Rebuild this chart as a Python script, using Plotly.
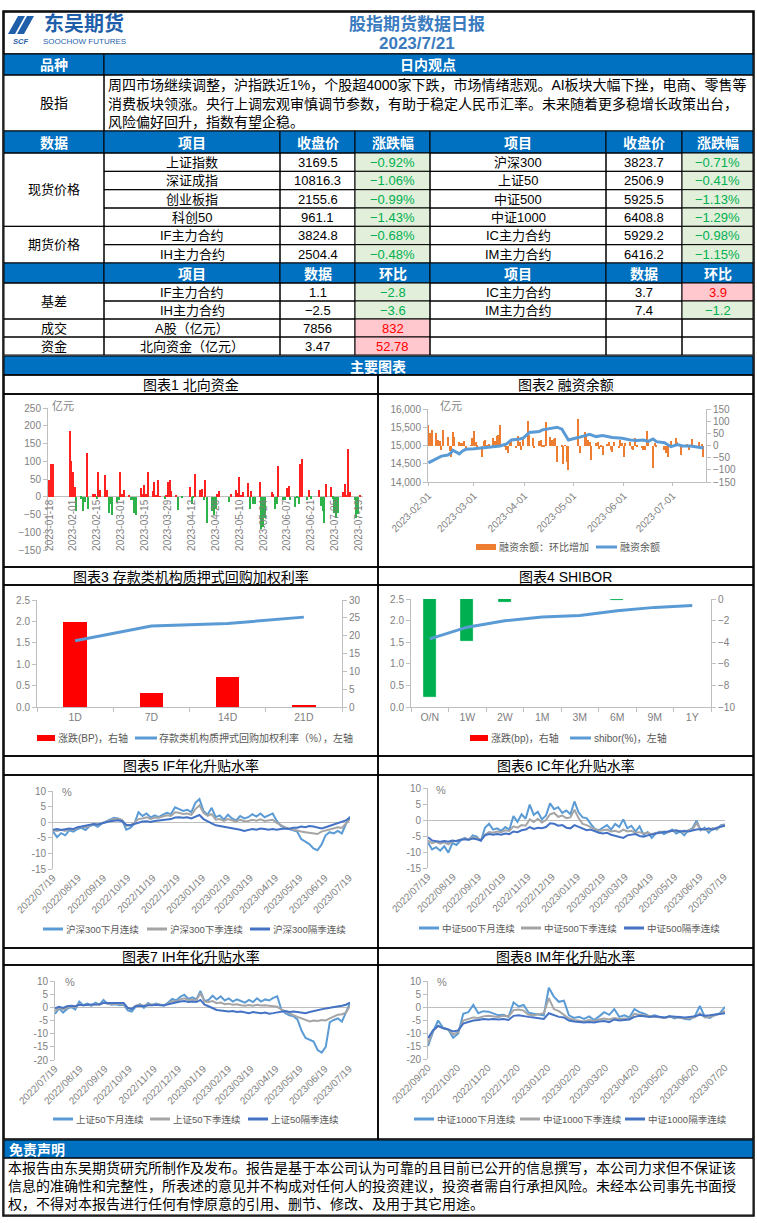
import plotly.graph_objects as go
import pandas as pd

W, H = 757, 1223
def X(px): return px / W
def Y(py): return 1 - py / H

LAT = "Liberation Sans, Noto Sans CJK SC, sans-serif"
CJK = "Noto Sans CJK SC, Liberation Sans, sans-serif"
GRAY = "#595959"
TICKC = "#7F7F7F"
AXC = "#BFBFBF"
HDR = "#0070C0"
GREEN_BG, GREEN_TX = "#E2EFDA", "#00B050"
RED_BG, RED_TX = "#FFC7CE", "#FF0000"
C_LB, C_GR, C_DB = "#5B9BD5", "#A5A5A5", "#4472C4"

# ---------------- header / table data ----------------
title_main = "股指期货数据日报"
title_date = "2023/7/21"
view_label = "股指"
view_lines = [
    "周四市场继续调整，沪指跌近1%，个股超4000家下跌，市场情绪悲观。AI板块大幅下挫，电商、零售等",
    "消费板块领涨。央行上调宏观审慎调节参数，有助于稳定人民币汇率。未来随着更多稳增长政策出台，",
    "风险偏好回升，指数有望企稳。",
]
hdr1 = ["数据", "项目", "收盘价", "涨跌幅", "项目", "收盘价", "涨跌幅"]
hdr2 = ["", "项目", "数据", "环比", "项目", "数据", "环比"]
price_l_names = ["上证指数", "深证成指", "创业板指", "科创50", "IF主力合约", "IH主力合约"]
price_l_close = [3169.5, 10816.3, 2155.6, 961.1, 3824.8, 2504.4]
price_l_chg = [-0.92, -1.06, -0.99, -1.43, -0.68, -0.48]
price_r_names = ["沪深300", "上证50", "中证500", "中证1000", "IC主力合约", "IM主力合约"]
price_r_close = [3823.7, 2506.9, 5925.5, 6408.8, 5929.2, 6416.2]
price_r_chg = [-0.71, -0.41, -1.13, -1.29, -0.98, -1.15]
group_labels = ["现货价格", "期货价格", "基差", "成交", "资金"]
basis_l_names = ["IF主力合约", "IH主力合约", "A股（亿元）", "北向资金（亿元）"]
basis_l_vals = [1.1, -2.5, 7856, 3.47]
basis_l_chg = [-2.8, -3.6, 832, 52.78]
basis_r_names = ["IC主力合约", "IM主力合约"]
basis_r_vals = [3.7, 7.4]
basis_r_chg = [3.9, -1.2]
section_title = "主要图表"
disc_title = "免责声明"
disc_lines = [
    "本报告由东吴期货研究所制作及发布。报告是基于本公司认为可靠的且目前已公开的信息撰写，本公司力求但不保证该",
    "信息的准确性和完整性，所表述的意见并不构成对任何人的投资建议，投资者需自行承担风险。未经本公司事先书面授",
    "权，不得对本报告进行任何有悖原意的引用、删节、修改、及用于其它用途。",
]
chart_titles = ["图表1 北向资金", "图表2 融资余额", "图表3 存款类机构质押式回购加权利率", "图表4 SHIBOR",
                "图表5 IF年化升贴水率", "图表6 IC年化升贴水率", "图表7 IH年化升贴水率", "图表8 IM年化升贴水率"]

# ---------------- chart 1: northbound ----------------
nb_holidays = ["2023-01-23", "2023-01-24", "2023-01-25", "2023-01-26", "2023-01-27", "2023-04-05",
               "2023-04-07", "2023-04-10", "2023-05-01", "2023-05-02", "2023-05-03", "2023-05-26",
               "2023-06-22", "2023-06-23"]
nb_values = [47, 92, 92, 186, 102,
             69, 28, -40, -5, -40, -15, 122, -35, 7, 7, -5, 69, 20, 60, 18, -45, -20, -50, -15, -10,
             70, 7, 20, 3, -10, -10, -45, -52, 26, 7, 34, 7, 71, 15, 42, 5, 47, 2, -5, 3, 42, 48, 15,
             5, -38, -2, 27, -20, -3, 64, 20, 22, -8, 47, -75, -40, -50, -35, 7, 15,
             -15, 7, 20, 10, 56, 5, 14, 40, -35, 15, -20, -20, 42, -90, -85, -60, 13, 7, -35,
             -20, 87, -10, -8, 24, 29, -10, -30, -3, -20, 93, 105, -10, 18, -5, 20, -25, -40, -75, 35,
             27, -5, -45, -60, -45, 12, 35, 4, 135, 12, -10, -60, -49.31, 3.47]
nb_ticks = ["2023-01-18", "2023-02-01", "2023-02-15", "2023-03-01", "2023-03-15", "2023-03-29", "2023-04-12",
            "2023-04-26", "2023-05-10", "2023-05-24", "2023-06-07", "2023-06-21", "2023-07-05", "2023-07-19"]

# ---------------- chart 2: margin balance ----------------
mb_holidays = ["2023-04-05", "2023-05-01", "2023-05-02", "2023-05-03", "2023-06-22", "2023-06-23"]
mb_chg = [84, 50, 64, 50, 22, 20, -19, 64, 36, -22, -49, 57, 36, 16, 12, 9, 19, -19, 2, 30,
          60, 16, -5, -49, 18, 22, -5, 8, 29, 18, 39, 43, 84, -5, -19, -32, 12, 25, -10, 40, 15, -20, 30,
          102, 43, 29, -12, 19, 22, -8, -8, 98, 36, 22, 25, 29, -68, -5, -77, 2, -68, -100,
          108, -32, 57, 43, 22, 16, -58, 12, 16, -16, -5, -40, 6, 16, -19, -26, 16, -12, 22, 10,
          -49, 9, 16, -16, -19, 29, -5, -12, -19, -19, 61, 22, -91, 10, -8, -19, -30, -49, 5, 19,
          29, 16, 6, -40, -2, 6, -19, -8, 25, 2, 16, -10, 8, -49]
mb_line_dates = ["2023-02-01", "2023-02-06", "2023-02-09", "2023-02-13", "2023-02-15", "2023-02-16",
                 "2023-02-20", "2023-02-22", "2023-02-24", "2023-03-01", "2023-03-06", "2023-03-09",
                 "2023-03-14", "2023-03-17", "2023-03-21", "2023-03-23", "2023-03-24", "2023-03-29",
                 "2023-03-31", "2023-04-04", "2023-04-06", "2023-04-10", "2023-04-12", "2023-04-17",
                 "2023-04-21", "2023-04-24", "2023-04-26", "2023-04-28", "2023-05-04", "2023-05-08",
                 "2023-05-11", "2023-05-15", "2023-05-19", "2023-05-25", "2023-05-31", "2023-06-05",
                 "2023-06-09", "2023-06-13", "2023-06-16", "2023-06-19", "2023-06-21", "2023-06-26",
                 "2023-06-30", "2023-07-04", "2023-07-07", "2023-07-12", "2023-07-17", "2023-07-20"]
mb_line_vals = [14525, 14645, 14710, 14740, 14800, 14870, 14770, 14850, 14895, 14912, 14930, 14950,
                14965, 14986, 15041, 15100, 15152, 15180, 15198, 15355, 15364, 15382, 15429, 15465,
                15502, 15447, 15290, 15152, 15217, 15272, 15309, 15244, 15272, 15217, 15198, 15152,
                15134, 15152, 15115, 15180, 15106, 15078, 14968, 15023, 14986, 14986, 14950, 14931]
mb_ticks = ["2023-02-01", "2023-03-01", "2023-04-01", "2023-05-01", "2023-06-01", "2023-07-01"]

# ---------------- chart 3: repo ----------------
repo_cats = ["1D", "7D", "14D", "21D"]
repo_bp = [23.9, 3.9, 8.4, 0.4]
repo_rate = [1.55, 1.89, 1.95, 2.10]

# ---------------- chart 4: shibor ----------------
shibor_cats = ["O/N", "1W", "2W", "1M", "3M", "6M", "9M", "1Y"]
shibor_bp = [-9.1, -3.9, -0.3, 0, 0, -0.1, 0, 0]
shibor_rate = [1.576, 1.848, 1.995, 2.081, 2.12, 2.228, 2.306, 2.35]

# ---------------- charts 5-8: basis rates ----------------
yr_ticks = ["2022/07/19", "2022/08/19", "2022/09/19", "2022/10/19", "2022/11/19", "2022/12/19", "2023/01/19",
            "2023/02/19", "2023/03/19", "2023/04/19", "2023/05/19", "2023/06/19", "2023/07/19"]
im_ticks = ["2022/09/20", "2022/10/20", "2022/11/20", "2022/12/20", "2023/01/20", "2023/02/20", "2023/03/20",
            "2023/04/20", "2023/05/20", "2023/06/20", "2023/07/20"]
y15_ticks = ["10", "5", "0", "-5", "-10", "-15"]
y20_ticks = ["10", "5", "0", "-5", "-10", "-15", "-20"]

IF_m = [-3.0, -4.8, -3.5, -4.2, -2.6, -3.0, -2.2, -1.8, -2.5, -1.2,
        -0.8, -1.5, -0.4, 0.3, 0.8, 1.4, 1.2, 0.6, -2.4, -1.8,
        -0.5, 3.2, 2.0, 2.8, 1.5, 2.2, 1.6, 2.4, 3.0, 2.6,
        4.8, 4.2, 3.6, 4.0, 3.2, 6.2, 7.4, 3.6, 2.4, 4.6,
        1.6, 2.2, 0.8, 2.4, 1.2, 0.6, 2.0, 1.2, 1.6, 2.6,
        1.8, 2.8, 1.6, 2.2, 2.8, 0.4, -1.2, -1.8, -2.2, -2.8,
        -3.0, -5.4, -6.2, -7.0, -8.4, -9.0, -7.2, -4.2, -3.2, -3.6,
        -2.8, -3.6, -0.6, 1.8]
IF_q = [-2.6, -2.8, -2.4, -2.8, -2.2, -2.4, -1.8, -1.5, -1.6, -1.0,
        -0.6, -0.8, -0.3, 0.2, 0.6, 1.0, 1.1, 0.7, -1.2, -1.0,
        -0.2, 1.0, 1.2, 1.6, 1.0, 1.5, 1.4, 1.8, 2.2, 2.0,
        3.2, 3.0, 2.6, 2.8, 2.4, 4.2, 5.4, 3.0, 2.0, 2.6,
        0.8, 1.0, 0.4, 1.0, 0.5, 0.2, 0.8, 0.3, 0.4, 0.8,
        0.5, 0.9, 0.4, 0.6, 0.8, -0.2, -1.0, -1.6, -2.0, -2.4,
        -2.6, -3.0, -3.2, -3.4, -3.6, -3.8, -3.0, -2.6, -2.2, -2.0,
        -1.6, -1.8, -0.4, 1.0]
IF_f = [-2.4, -2.2, -2.5, -2.3, -2.0, -2.2, -1.6, -1.4, -1.2, -0.8,
        -0.6, -0.7, -0.3, 0.0, 0.3, 0.5, 0.6, 0.3, -0.8, -1.0,
        -0.6, 0.0, 0.2, 0.3, 0.1, 0.4, 0.5, 0.6, 0.8, 1.0,
        1.5, 1.6, 1.4, 1.6, 1.2, 1.8, 2.3, 1.0, 0.2, -0.4,
        -1.0, -1.2, -1.4, -1.6, -1.8, -2.0, -2.4, -2.8, -2.4, -2.2,
        -2.4, -2.0, -2.2, -2.4, -2.2, -2.4, -2.2, -2.0, -2.2, -1.8,
        -1.8, -1.4, -1.6, -1.2, -1.4, -1.6, -2.0, -1.6, -1.2, -0.6,
        -0.2, 0.2, 0.6, 1.5]
IC_m = [-7.0, -9.2, -8.5, -9.6, -8.2, -10.2, -7.2, -7.8, -6.4, -5.6,
        -6.2, -4.8, -5.2, -6.6, -2.4, -1.2, -3.0, -2.6, -3.4, -2.2,
        -3.0, 1.2, -0.6, 1.8, 0.4, 4.8, 1.6, 2.6, 0.2, 1.4,
        5.2, 3.4, 4.0, 2.2, 3.0, 1.8, 5.8, 2.4, 0.8, 0.6,
        -1.2, -2.8, -3.2, -2.4, -1.6, -3.0, -1.2, -2.2, 0.2, -2.6,
        -1.8, -3.6, -2.0, -4.6, -3.8, -5.6, -4.2, -3.6, -4.4, -3.8,
        -3.0, -4.2, -3.6, -4.8, -3.2, -2.6, -0.2, -3.2, -2.4, -4.0,
        -2.6, -3.0, -1.6, -1.4]
IC_q = [-6.4, -7.2, -6.8, -7.4, -7.0, -7.6, -6.8, -6.6, -6.2, -5.8,
        -6.0, -5.4, -5.6, -6.2, -4.6, -3.8, -4.0, -3.6, -3.8, -3.2,
        -3.4, -2.0, -2.4, -1.6, -1.8, 0.2, -0.6, 0.4, -0.8, 0.0,
        1.8, 2.2, 1.0, 1.4, 0.6, 0.8, 3.2, 0.6, -1.2, -1.6,
        -2.2, -3.0, -3.4, -3.2, -3.0, -3.6, -3.4, -3.8, -3.0, -3.6,
        -3.4, -4.0, -3.8, -4.2, -4.0, -4.4, -4.0, -3.8, -3.6, -3.8,
        -3.4, -3.6, -3.4, -3.8, -3.2, -3.0, -1.0, -3.0, -2.8, -3.2,
        -2.6, -2.8, -1.8, -1.6]
IC_f = [-5.4, -6.4, -6.6, -6.8, -6.6, -6.8, -6.4, -6.6, -6.2, -6.0,
        -6.2, -5.8, -6.0, -6.4, -4.8, -4.4, -4.6, -4.4, -4.6, -4.2,
        -4.4, -3.6, -3.8, -3.2, -3.0, -2.2, -2.8, -2.4, -2.6, -2.2,
        -1.0, -1.2, -1.8, -1.6, -2.4, -2.6, -1.6, -2.2, -2.8, -3.2,
        -3.0, -3.6, -4.0, -4.2, -4.0, -4.6, -5.0, -5.4, -5.6, -4.8,
        -4.6, -4.4, -5.0, -5.2, -4.8, -4.4, -4.2, -4.0, -3.8, -3.6,
        -3.4, -3.2, -3.6, -3.4, -3.6, -3.2, -3.0, -2.8, -3.0, -2.6,
        -3.0, -2.4, -2.2, -1.8]
IH_m = [-2.5, -0.4, -2.0, -0.6, 0.2, -0.8, 2.2, 0.8, 1.4, 0.6,
        1.8, 1.0, 2.8, 1.4, 1.0, 1.2, 0.8, 1.0, -1.2, -1.6,
        0.4, 1.2, -0.2, 1.6, 0.8, 1.4, 1.0, 0.6, 1.8, 3.2,
        2.6, 4.0, 4.8, 3.2, 3.8, 3.0, 6.2, 2.4, 2.8, 4.4,
        3.0, 4.2, 2.6, 3.4, 2.2, 3.0, 2.4, 1.8, 2.8, 2.0,
        3.4, 2.2, 3.0, 2.6, 3.6, 4.2, -0.8, -2.2, -3.0, -3.4,
        -4.6, -8.8, -11.6, -12.2, -13.0, -16.2, -17.2, -15.0, -5.6, -4.8,
        -4.2, -5.4, -2.0, 1.6]
IH_q = [-1.4, -0.2, -0.8, -0.2, 0.4, 0.0, 1.2, 0.8, 1.0, 0.8,
        1.2, 1.0, 1.8, 1.4, 1.2, 1.4, 1.2, 1.2, -0.4, -0.6,
        0.6, 1.0, 0.6, 1.2, 1.0, 1.2, 1.0, 0.8, 1.4, 2.4,
        2.2, 3.0, 3.4, 2.8, 3.0, 2.8, 5.4, 2.2, 2.0, 2.4,
        1.6, 1.8, 1.2, 1.4, 1.0, 1.2, 0.8, 0.6, 0.9, 0.6,
        1.0, 0.7, 0.8, 0.6, 0.6, 0.2, -0.8, -1.6, -2.2, -3.0,
        -3.6, -4.2, -4.8, -5.4, -5.0, -5.2, -4.8, -5.0, -4.2, -3.4,
        -2.8, -2.6, -2.0, 0.6]
IH_f = [-0.4, 0.2, -0.2, 0.4, 0.6, 0.4, 1.0, 0.8, 1.0, 1.0,
        1.2, 1.2, 1.6, 1.6, 1.8, 1.8, 1.8, 1.6, -0.2, -0.6,
        0.4, 0.6, 0.4, 0.8, 0.8, 1.0, 0.8, 0.8, 1.2, 1.6,
        1.8, 2.2, 2.4, 2.0, 2.2, 2.0, 2.8, 1.0, 0.4, -0.4,
        -1.0, -1.2, -1.4, -1.6, -1.4, -1.8, -1.6, -2.0, -2.2, -1.8,
        -2.0, -2.2, -2.0, -2.4, -2.2, -2.0, -1.6, -1.4, -1.8, -1.6,
        -1.8, -2.0, -2.2, -1.8, -1.4, -1.0, -0.8, -0.4, -0.2, 0.0,
        0.4, 0.6, 1.0, 1.8]
IM_m = [-15.0, -9.6, -5.2, -8.0, -8.6, -11.8, -10.2, -2.6, -2.0, 0.8,
        -2.4, -1.6, -1.8, -2.6, -3.2, -3.0, -3.8, 1.8, 0.2, 0.8,
        -2.2, -2.6, -2.8, -3.2, 7.4, 4.0, 2.0, 2.4, -3.2, -4.2,
        -3.8, -4.6, -3.6, -5.0, -3.6, -2.0, -3.0, -0.8, -3.8, -3.2,
        -4.0, -0.8, -2.0, -2.6, -3.6, -3.2, -3.8, -4.2, -3.6, -4.4,
        -3.8, -4.6, -4.8, -3.6, 0.4, -3.8, -4.2, -3.0, -2.4, 0.0]
IM_q = [-14.0, -9.0, -7.4, -8.2, -8.8, -10.6, -9.6, -5.2, -4.6, -4.0,
        -4.2, -3.6, -3.4, -3.6, -3.8, -3.4, -3.6, -1.2, -1.0, -1.4,
        -3.0, -3.2, -2.8, -2.4, 3.4, -0.8, -1.6, -3.0, -4.4, -5.0,
        -5.2, -5.6, -5.0, -5.4, -4.8, -4.4, -4.8, -4.2, -4.6, -4.4,
        -4.6, -2.6, -3.0, -3.2, -3.4, -3.6, -4.0, -4.2, -3.8, -4.0,
        -4.2, -4.4, -4.2, -4.0, -2.4, -4.0, -3.8, -3.2, -2.6, -1.6]
IM_f = [-12.0, -9.0, -7.2, -8.2, -8.6, -9.4, -9.0, -6.4, -5.8, -5.2,
        -5.0, -4.6, -4.8, -4.6, -4.8, -4.6, -5.0, -3.4, -3.2, -3.6,
        -3.8, -4.0, -4.4, -4.6, -2.4, -3.2, -3.8, -4.0, -5.2, -5.6,
        -5.8, -6.0, -5.8, -6.0, -5.6, -5.4, -5.8, -4.8, -5.2, -5.0,
        -4.8, -3.8, -3.4, -3.6, -3.8, -3.6, -3.8, -4.0, -3.6, -3.8,
        -3.8, -4.0, -3.8, -3.6, -3.0, -3.4, -3.2, -3.0, -2.8, -2.4]
legend_IF = ["沪深300下月连续", "沪深300下季连续", "沪深300隔季连续"]
legend_IC = ["中证500下月连续", "中证500下季连续", "中证500隔季连续"]
legend_IH = ["上证50下月连续", "上证50下季连续", "上证50隔季连续"]
legend_IM = ["中证1000下月连续", "中证1000下季连续", "中证1000隔季连续"]

# =================================================================
shapes, ann = [], []

def rect(x0, y0, x1, y1, fill=None, lw=1, lc="#000000"):
    shapes.append(dict(type="rect", xref="paper", yref="paper", x0=X(x0), x1=X(x1), y0=Y(y1), y1=Y(y0),
                       line=dict(color=lc, width=lw), fillcolor=fill if fill else "rgba(0,0,0,0)", layer="below"))

def seg(x0, y0, x1, y1, color, w):
    shapes.append(dict(type="line", xref="paper", yref="paper", x0=X(x0), x1=X(x1), y0=Y(y0), y1=Y(y1),
                       line=dict(color=color, width=w), layer="below"))

def T(x, y, s, size=13, color="#000000", xanchor="center", bold=False, family=LAT, italic=False):
    t = s
    if bold: t = "<b>" + t + "</b>"
    if italic: t = "<i>" + t + "</i>"
    ann.append(dict(xref="paper", yref="paper", x=X(x), y=Y(y), text=t, showarrow=False, xanchor=xanchor,
                    yanchor="middle", font=dict(size=size, color=color, family=family), borderpad=0))

def path(pts, fill):
    d = "M " + " L ".join(f"{X(a):.5f},{Y(b):.5f}" for a, b in pts) + " Z"
    shapes.append(dict(type="path", xref="paper", yref="paper", path=d, fillcolor=fill, line=dict(width=0), layer="below"))

def fnum(v):
    return f"{v}".replace("-", "−")

def fpct(v):
    return f"{v:.2f}%".replace("-", "−")

# ---------- header ----------
rect(4, 12, 753, 54, lw=1.5)
LOGO = "#1F5FAA"
path([(8, 34), (18, 16), (25, 16), (15, 34)], LOGO)
path([(17, 34), (27, 16), (34, 16), (24, 34)], LOGO)
T(20, 41.5, "SCF", size=7.5, color=LOGO, bold=True, italic=True)
T(84, 23, "东吴期货", size=20, color=LOGO, bold=True, family=CJK)
T(84, 41.5, "SOOCHOW FUTURES", size=8, color=LOGO)
TITLE_C = "#3A7BC0"
T(417, 22.5, title_main, size=17, color=TITLE_C, bold=True, family=CJK)
T(417, 43.5, title_date, size=17, color=TITLE_C, bold=True)

cols = [4, 104, 280, 355, 430, 606, 682, 753]

# row 品种 / 日内观点
rect(4, 54, 104, 75, fill=HDR)
rect(104, 54, 753, 75, fill=HDR)
T(54, 64.5, "品种", size=14, color="#FFFFFF", bold=True, family=CJK)
T(428, 64.5, "日内观点", size=14, color="#FFFFFF", bold=True, family=CJK)
rect(4, 75, 104, 131)
rect(104, 75, 753, 131)
T(54, 103, view_label, size=14)
for i, s in enumerate(view_lines):
    T(107, 85 + i * 18.5, s, size=14, xanchor="left")

# header row 1
for ci, s in enumerate(hdr1):
    rect(cols[ci], 131, cols[ci + 1], 153, fill=HDR)
    T((cols[ci] + cols[ci + 1]) / 2, 142, s, size=14, color="#FFFFFF", bold=True, family=CJK)

def sign_style(v):
    return (GREEN_BG, GREEN_TX) if v < 0 else (RED_BG, RED_TX)

def cell(ci, y0, y1, s="", fill=None, color="#000000"):
    x0, x1 = cols[ci], cols[ci + 1]
    rect(x0, y0, x1, y1, fill=fill)
    if s != "":
        T((x0 + x1) / 2, (y0 + y1) / 2 + 0.5, s, size=13, color=color)

rh1 = 110 / 6
for r in range(6):
    y0, y1 = 153 + r * rh1, 153 + (r + 1) * rh1
    cell(1, y0, y1, price_l_names[r])
    cell(2, y0, y1, fnum(price_l_close[r]))
    bg, tx = sign_style(price_l_chg[r])
    cell(3, y0, y1, fpct(price_l_chg[r]), bg, tx)
    cell(4, y0, y1, price_r_names[r])
    cell(5, y0, y1, fnum(price_r_close[r]))
    bg, tx = sign_style(price_r_chg[r])
    cell(6, y0, y1, fpct(price_r_chg[r]), bg, tx)
rect(4, 153, 104, 153 + 4 * rh1)
T(54, 153 + 2 * rh1, group_labels[0], size=13)
rect(4, 153 + 4 * rh1, 104, 263)
T(54, 153 + 5 * rh1, group_labels[1], size=13)

# header row 2
for ci, s in enumerate(hdr2):
    rect(cols[ci], 263, cols[ci + 1], 283, fill=HDR)
    if s:
        T((cols[ci] + cols[ci + 1]) / 2, 273, s, size=14, color="#FFFFFF", bold=True, family=CJK)

for r in range(4):
    y0, y1 = 283 + r * 18, 283 + (r + 1) * 18
    cell(1, y0, y1, basis_l_names[r])
    cell(2, y0, y1, fnum(basis_l_vals[r]))
    bg, tx = sign_style(basis_l_chg[r])
    cell(3, y0, y1, fnum(basis_l_chg[r]), bg, tx)
    if r < 2:
        cell(4, y0, y1, basis_r_names[r])
        cell(5, y0, y1, fnum(basis_r_vals[r]))
        bg, tx = sign_style(basis_r_chg[r])
        cell(6, y0, y1, fnum(basis_r_chg[r]), bg, tx)
    else:
        cell(4, y0, y1); cell(5, y0, y1); cell(6, y0, y1)
rect(4, 283, 104, 319); T(54, 301, group_labels[2], size=13)
rect(4, 319, 104, 337); T(54, 328.5, group_labels[3], size=13)
rect(4, 337, 104, 355); T(54, 346.5, group_labels[4], size=13)

# section bar
rect(4, 356, 753, 375, fill=HDR)
T(378, 365.5, section_title, size=14, color="#FFFFFF", bold=True, family=CJK)

# chart panels
panel_rows = [(375, 394, 567), (567, 585, 756), (756, 775, 948), (948, 965, 1139)]
for k, (t0, t1, b) in enumerate(panel_rows):
    for j, (x0, x1) in enumerate([(4, 378), (378, 753)]):
        rect(x0, t0, x1, t1, lw=1.5)
        rect(x0, t1, x1, b, lw=1.5)
        T((x0 + x1) / 2, (t0 + t1) / 2 + 0.5, chart_titles[k * 2 + j], size=14, color="#000000")

# disclaimer
rect(4, 1140, 753, 1158, fill=HDR)
T(8, 1149, disc_title, size=14, color="#FFFFFF", bold=True, xanchor="left", family=CJK)
rect(4, 1158, 753, 1215)
for i, s in enumerate(disc_lines):
    T(7, 1168 + i * 18, s, size=14, xanchor="left")
rect(3, 11, 754, 1216, lw=1.5)

# ---------- legends / unit labels ----------
def leg_line(x0, x1, y, color, w=3):
    seg(x0, y, x1, y, color, w)

def leg_box(x0, x1, y, color, h=6):
    rect(x0, y - h / 2, x1, y + h / 2, fill=color, lw=0)

T(63, 406, "亿元", size=11, color=TICKC)
T(451, 406, "亿元", size=11, color=TICKC)
leg_box(476, 496, 547, "#ED7D31")
T(498, 547, "融资余额：环比增加", size=10, color=GRAY, xanchor="left")
leg_line(596, 617, 547, C_LB)
T(619, 547, "融资余额", size=10, color=GRAY, xanchor="left")
leg_box(37, 55, 738, "#FF0000")
T(57, 738, "涨跌(BP)，右轴", size=10, color=GRAY, xanchor="left")
leg_line(135, 157, 738, C_LB)
T(158, 738, "存款类机构质押式回购加权利率（%），左轴", size=10, color=GRAY, xanchor="left")
leg_box(470, 488, 738, "#FF0000")
T(490, 738, "涨跌(bp)，右轴", size=10, color=GRAY, xanchor="left")
leg_line(570, 591, 738, C_LB)
T(593, 738, "shibor(%)，左轴", size=10, color=GRAY, xanchor="left")

leg_specs = [
    (legend_IF, 929, [43, 147, 250]),
    (legend_IC, 928, [419, 521, 624]),
    (legend_IH, 1119, [53, 150, 248]),
    (legend_IM, 1119, [414, 520, 625]),
]
for names, ly, xs in leg_specs:
    for nm, x0, c in zip(names, xs, [C_LB, C_GR, C_DB]):
        leg_line(x0, x0 + 20, ly, c)
        T(x0 + 22, ly, nm, size=9.5, color=GRAY, xanchor="left")
T(67, 792, "%", size=11, color=TICKC)
T(441, 790, "%", size=11, color=TICKC)
T(70, 982, "%", size=11, color=TICKC)
T(442, 982, "%", size=11, color=TICKC)

# =================================================================
fig = go.Figure()
TF = dict(size=10, color=TICKC, family=LAT)

# chart 1
nb_days = [d for d in pd.bdate_range("2023-01-18", "2023-07-20") if d.strftime("%Y-%m-%d") not in nb_holidays]
n1 = min(len(nb_days), len(nb_values))
fig.add_trace(go.Bar(x=nb_days[:n1], y=nb_values[:n1], xaxis="x", yaxis="y",
                     marker=dict(color=["#FF2020" if v >= 0 else "#2DB34A" for v in nb_values[:n1]], line=dict(width=0)),
                     width=0.8 * 86400000))

# chart 2
mb_days = [d for d in pd.bdate_range("2023-02-01", "2023-07-20") if d.strftime("%Y-%m-%d") not in mb_holidays]
n2 = min(len(mb_days), len(mb_chg))
fig.add_trace(go.Bar(x=mb_days[:n2], y=mb_chg[:n2], xaxis="x2", yaxis="y2",
                     marker=dict(color="#ED7D31", line=dict(width=0)), width=0.7 * 86400000))
fig.add_trace(go.Scatter(x=mb_line_dates, y=mb_line_vals, xaxis="x2", yaxis="y3", mode="lines",
                         line=dict(color=C_LB, width=3)))

# chart 3
fig.add_trace(go.Bar(x=repo_cats, y=repo_bp, xaxis="x3", yaxis="y4", width=0.31,
                     marker=dict(color="#FF0000", line=dict(width=0))))
fig.add_trace(go.Scatter(x=repo_cats, y=repo_rate, xaxis="x3", yaxis="y5", mode="lines",
                         line=dict(color=C_LB, width=3)))

# chart 4
fig.add_trace(go.Bar(x=shibor_cats, y=shibor_bp, xaxis="x4", yaxis="y6", width=0.32,
                     marker=dict(color=["#00B050" if v < 0 else "#FF0000" for v in shibor_bp],
                                 line=dict(width=[0.8 if v < 0 else 0 for v in shibor_bp], color="#00B050"))))
fig.add_trace(go.Scatter(x=shibor_cats, y=shibor_rate, xaxis="x4", yaxis="y7", mode="lines",
                         line=dict(color=C_LB, width=3)))

# charts 5-8
def add_lines(series, start, end, xa, ya):
    for vals, c in zip(series, [C_LB, C_GR, C_DB]):
        dates = pd.date_range(start, end, periods=len(vals))
        fig.add_trace(go.Scatter(x=dates, y=vals, xaxis=xa, yaxis=ya, mode="lines",
                                 line=dict(color=c, width=2)))

add_lines([IF_m, IF_q, IF_f], "2022-07-19", "2023-07-20", "x5", "y8")
add_lines([IC_m, IC_q, IC_f], "2022-07-19", "2023-07-20", "x6", "y9")
add_lines([IH_m, IH_q, IH_f], "2022-07-19", "2023-07-20", "x7", "y10")
add_lines([IM_m, IM_q, IM_f], "2022-09-20", "2023-07-20", "x8", "y11")

def yax(top, bot, **kw):
    d = dict(domain=[Y(bot), Y(top)], showgrid=False, zeroline=False, showline=True, linecolor=AXC, linewidth=1,
             ticks="outside", ticklen=4, tickcolor=AXC, tickfont=TF, fixedrange=True, automargin=False)
    d.update(kw)
    return d

def yover(**kw):
    d = dict(showgrid=False, zeroline=False, showline=True, linecolor=AXC, linewidth=1,
             ticks="outside", ticklen=4, tickcolor=AXC, tickfont=TF, fixedrange=True, automargin=False)
    d.update(kw)
    return d

def slash_to_dash(lst):
    return [s.replace("/", "-") for s in lst]

lay = dict(
    width=W, height=H, margin=dict(l=0, r=0, t=0, b=0, autoexpand=False), autosize=False,
    paper_bgcolor="white", plot_bgcolor="rgba(0,0,0,0)",
    showlegend=False, shapes=shapes, annotations=ann, font=dict(family=LAT, size=10, color=GRAY), bargap=0,
    # chart 1
    xaxis=dict(domain=[X(48), X(363)], anchor="free", position=Y(496.75), type="date",
               range=["2023-01-17 05:00", "2023-07-21 18:00"], tickvals=nb_ticks, ticktext=nb_ticks,
               tickangle=-90, showline=False, ticks="", showgrid=False, zeroline=False, tickfont=TF,
               automargin=False),
    yaxis=yax(408, 550, anchor="x", range=[-150, 250], dtick=50, tick0=0, zeroline=True,
              zerolinecolor=AXC, zerolinewidth=1),
    # chart 2
    xaxis2=dict(domain=[X(428), X(706)], anchor="y2", type="date", range=["2023-01-31 18:00", "2023-07-21 12:00"],
                tickvals=mb_ticks, ticktext=mb_ticks, tickangle=-45, showline=True, linecolor=AXC,
                ticks="outside", ticklen=3, tickcolor=AXC, showgrid=False, zeroline=False, tickfont=TF,
                automargin=False),
    yaxis2=yax(409, 482, anchor="x2", side="right", range=[-150, 150], dtick=50, tick0=0),
    yaxis3=yover(overlaying="y2", anchor="x2", side="left", range=[14000, 16000], dtick=500, tickformat=","),
    # chart 3
    xaxis3=dict(domain=[X(37), X(342)], anchor="y4", type="category", showline=True, linecolor=AXC,
                ticks="outside", tickson="boundaries", ticklen=4, tickcolor=AXC, showgrid=False,
                tickfont=dict(size=10.5, color=TICKC, family=LAT), automargin=False),
    yaxis4=yax(600, 707, anchor="x3", side="right", range=[0, 30], dtick=5),
    yaxis5=yover(overlaying="y4", anchor="x3", side="left", range=[0, 2.5], dtick=0.5, tickformat=".1f"),
    # chart 4
    xaxis4=dict(domain=[X(411), X(711)], anchor="y6", type="category", showline=True, linecolor=AXC,
                ticks="outside", tickson="boundaries", ticklen=4, tickcolor=AXC, showgrid=False,
                tickfont=dict(size=10.5, color=TICKC, family=LAT), automargin=False),
    yaxis6=yax(599, 707, anchor="x4", side="right", range=[-10, 0], dtick=2),
    yaxis7=yover(overlaying="y6", anchor="x4", side="left", range=[0, 2.5], dtick=0.5, tickformat=".1f"),
)

def date_x(dom, anchor, rng, ticks):
    return dict(domain=dom, anchor=anchor, type="date", range=rng, tickvals=slash_to_dash(ticks), ticktext=ticks,
                tickangle=-45, showline=False, ticks="", showgrid=False, zeroline=False, tickfont=TF,
                automargin=False)

yv15 = [int(s) for s in y15_ticks]
yv20 = [int(s) for s in y20_ticks]
lay["xaxis5"] = date_x([X(53), X(350)], "y8", ["2022-07-19", "2023-07-20"], yr_ticks)
lay["yaxis8"] = yax(791, 869, anchor="x5", range=[-15, 10], tickvals=yv15, ticktext=y15_ticks,
                    zeroline=True, zerolinecolor=AXC, zerolinewidth=1)
lay["xaxis6"] = date_x([X(428), X(725)], "y9", ["2022-07-19", "2023-07-20"], yr_ticks)
lay["yaxis9"] = yax(788, 868, anchor="x6", range=[-15, 10], tickvals=yv15, ticktext=y15_ticks,
                    zeroline=True, zerolinecolor=AXC, zerolinewidth=1)
lay["xaxis7"] = date_x([X(55), X(350)], "y10", ["2022-07-19", "2023-07-20"], yr_ticks)
lay["yaxis10"] = yax(981, 1060, anchor="x7", range=[-20, 10], tickvals=yv20, ticktext=y20_ticks,
                     zeroline=True, zerolinecolor=AXC, zerolinewidth=1)
lay["xaxis8"] = date_x([X(428), X(725)], "y11", ["2022-09-20", "2023-07-20"], im_ticks)
lay["yaxis11"] = yax(981, 1059, anchor="x8", range=[-20, 10], tickvals=yv20, ticktext=y20_ticks,
                     zeroline=True, zerolinecolor=AXC, zerolinewidth=1)

fig.update_layout(**lay)
fig.write_html("out.html", config=dict(responsive=False, displayModeBar=False),
               post_script="document.body.style.margin='0px';document.body.style.overflow='hidden';")
